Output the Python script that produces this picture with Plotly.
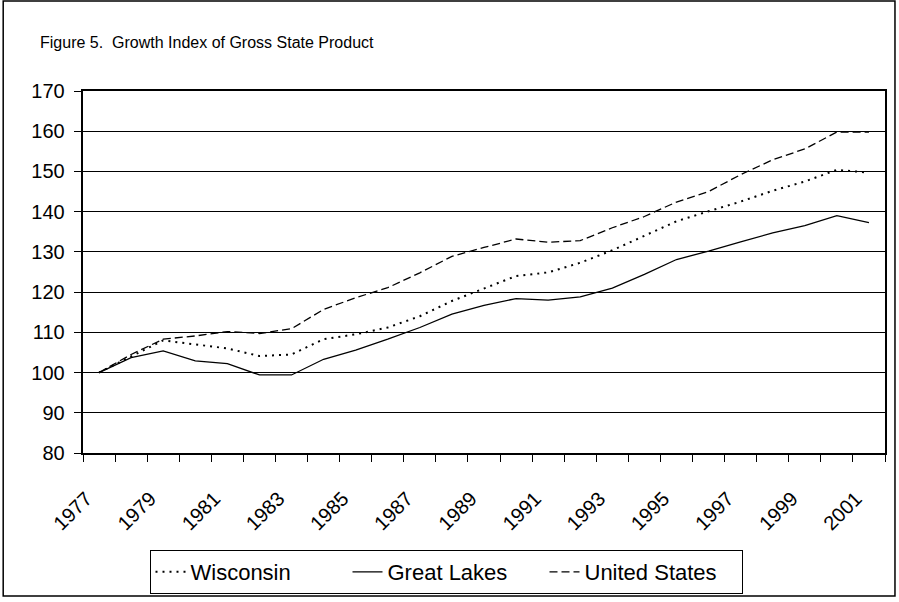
import plotly.graph_objects as go

years = list(range(1977, 2002))
wisconsin = [100, 104, 108, 107, 106, 104.1, 104.5, 108.3, 109.5, 111.2, 114, 117.8, 120.8,
             124, 124.9, 127.3, 130.4, 133.9, 137.6, 140.1, 142.5, 145.2, 147.5, 150.4, 149.7]
great_lakes = [100, 103.7, 105.4, 102.9, 102.2, 99.4, 99.4, 103.3, 105.6, 108.3, 111.2, 114.5, 116.7,
               118.4, 118, 118.8, 121, 124.4, 128.1, 130.2, 132.5, 134.7, 136.5, 139, 137.3]
united_states = [100, 104.5, 108.3, 109.1, 110.2, 109.7, 110.9, 115.7, 118.6, 121.1, 124.8, 128.9, 131.1,
                 133.2, 132.4, 132.8, 136, 138.8, 142.4, 145, 149.2, 152.9, 155.6, 159.8, 159.8]
label_years = years[::2]

font = "Liberation Sans, Arial, sans-serif"

fig = go.Figure()
fig.add_trace(go.Scatter(x=years, y=wisconsin, name="Wisconsin", mode="lines",
                         line=dict(color="black", width=2, dash="2px,5px")))
fig.add_trace(go.Scatter(x=years, y=great_lakes, name="Great Lakes", mode="lines",
                         line=dict(color="black", width=1.3)))
fig.add_trace(go.Scatter(x=years, y=united_states, name="United States", mode="lines",
                         line=dict(color="black", width=1.3, dash="8px,4px")))

fig.update_layout(
    width=899, height=602,
    margin=dict(l=83, r=12, t=91, b=149),
    paper_bgcolor="white", plot_bgcolor="white",
    font=dict(family=font, color="black", size=20),
    title=dict(text="Figure 5.  Growth Index of Gross State Product",
               font=dict(size=16), x=40 / 899, xanchor="left",
               xref="container", yref="container", y=1 - 42 / 602, yanchor="middle"),
    legend=dict(orientation="h", xref="container", yref="container",
                x=446 / 899, xanchor="center", y=30 / 602, yanchor="middle",
                bordercolor="black", borderwidth=1, font=dict(size=22),
                entrywidth=152, tracegroupgap=0),
    showlegend=True,
)

# labels on every other year (nudged left like the Excel original),
# tick marks between the years (like category boundaries)
fig.update_xaxes(
    range=[1976.5, 2001.5],
    tickvals=[y - 0.4 for y in label_years], ticktext=[str(y) for y in label_years],
    tickangle=-45, ticks="", ticklabelstandoff=24,
    minor=dict(tick0=1976.5, dtick=1, ticks="outside", ticklen=7, tickcolor="black", showgrid=False),
    showline=True, linecolor="black", linewidth=2, mirror=True, showgrid=False, zeroline=False,
)
fig.update_yaxes(
    range=[80, 170], dtick=10, ticks="outside", ticklen=7, tickcolor="black",
    ticksuffix="\u00a0",
    showline=True, linecolor="black", linewidth=1.5, mirror=True,
    gridcolor="black", gridwidth=1, zeroline=False,
)

# outer frame around the whole chart
fig.add_shape(type="rect", xref="paper", yref="paper",
              x0=(3 - 83) / 804, x1=(897 - 83) / 804,
              y0=(453 - 596) / 362, y1=(453 - 1) / 362,
              line=dict(color="black", width=1.5))

fig.write_html("out.html", config={"displayModeBar": False},
               post_script="document.body.style.margin = '0px';")
